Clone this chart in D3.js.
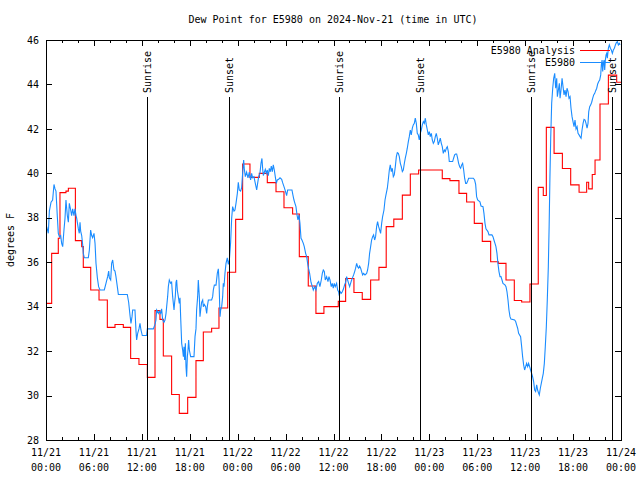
<!DOCTYPE html>
<html><head><meta charset="utf-8">
<script src="https://cdn.jsdelivr.net/npm/d3@7"></script>
<style>
body{margin:0;background:#fff;}
svg{display:block;}
text{font-family:"DejaVu Sans Mono","Liberation Mono",monospace;font-size:10px;fill:#000;}
</style></head>
<body>
<svg id="c" width="640" height="480"></svg>
<script>
// ---- data ----
const title = "Dew Point for E5980 on 2024-Nov-21 (time in UTC)";
const yLabel = "degrees F";
const seriesNames = ["E5980 Analysis", "E5980"];
const seriesColors = ["#ff0000", "#1a8cff"];
const xTickHours = [0,6,12,18,24,30,36,42,48,54,60,66,72];
const xTickDates = ["11/21","11/21","11/21","11/21","11/22","11/22","11/22","11/22","11/23","11/23","11/23","11/23","11/24"];
const xTickTimes = ["00:00","06:00","12:00","18:00","00:00","06:00","12:00","18:00","00:00","06:00","12:00","18:00","00:00"];
const yTicks = [28,30,32,34,36,38,40,42,44,46];
const sunHours = [12.69, 22.96, 36.73, 46.87, 60.77, 70.9];
const sunLabels = ["Sunrise","Sunset","Sunrise","Sunset","Sunrise","Sunset"];

// analysis: [hour step starts, value]
const analysis = [
[0,34.15],[0.71,36.4],[1.54,37.08],[1.75,39.13],[2.5,39.2],[2.8,39.33],[3.68,36.97],[4.47,36.7],[4.67,35.77],
[5.6,34.75],[6.64,34.3],[7.68,33.07],[8.64,33.2],[9.68,33.07],[10.6,31.67],[11.64,31.4],[12.69,30.82],
[13.65,33.82],[14.27,33.43],[14.69,31.78],[15.73,30.05],[16.69,29.2],[17.74,29.92],[18.78,31.57],
[19.7,32.86],[20.74,33.03],[21.66,33.94],[22.75,35.55],[23.75,37.93],[24.62,40.42],[25.54,39.82],
[26.71,40.0],[27.71,39.58],[28.8,39.17],[29.8,38.45],[30.88,38.17],[31.72,36.25],[32.84,34.93],
[33.8,33.7],[34.8,34.0],[36.6,34.24],[37.52,35.27],[38.56,34.64],[39.6,34.33],[40.65,35.2],
[41.69,35.77],[42.6,37.6],[43.55,37.94],[44.62,39.02],[45.62,39.97],[46.66,40.15],[49.62,39.76],
[50.58,39.67],[51.71,39.1],[52.67,38.71],[53.63,37.75],[54.63,36.94],[55.68,36.02],[56.64,35.95],
[57.6,35.2],[58.64,34.28],[59.56,34.21],[60.6,35.02],[61.64,39.37],[62.27,39.0],[62.65,42.07],
[63.62,40.9],[64.66,40.22],[65.7,39.48],[66.75,39.15],[67.7,39.6],[67.95,39.3],[68.4,39.95],
[68.75,40.6],[69.37,43.12],[70.42,44.42],[71.46,44.1],[72,44.1]
];

// observations: [hour, value]
const observed = [
[0.08,37.6],[0.29,37.3],[0.42,38.3],[0.63,38.7],[0.83,38.8],[1.0,39.5],[1.13,39.3],[1.25,39.2],[1.42,38.05],
[1.54,37.3],[1.67,37.15],[1.84,37.2],[1.96,36.85],[2.09,36.7],[2.25,37.45],[2.38,37.98],[2.5,38.8],[2.67,38.1],
[2.8,37.8],[2.92,38.65],[3.09,38.35],[3.21,38.1],[3.34,38.4],[3.5,38.1],[3.63,38.4],[3.76,38.1],[3.84,37.98],
[4.05,37.5],[4.17,37.3],[4.26,37.8],[4.34,37.4],[4.47,37.2],[4.59,36.8],[4.67,36.4],[4.8,36.2],[5.3,36.2],
[5.43,36.55],[5.59,37.45],[5.72,37.2],[5.84,37.1],[6.01,37.3],[6.14,36.85],[6.26,35.95],[6.43,35.3],[6.59,34.9],
[6.76,34.75],[7.3,34.75],[7.51,35.05],[7.72,35.35],[7.85,35.6],[7.93,35.3],[8.1,35.2],[8.22,35.95],[8.35,36.1],
[8.51,35.65],[8.64,35.6],[8.76,35.35],[8.93,34.9],[9.06,34.55],[10.18,34.55],[10.35,34.2],[10.52,33.6],
[10.64,33.25],[10.77,33.55],[10.85,33.85],[11.14,33.85],[11.27,32.9],[11.35,32.5],[11.48,32.8],[11.64,33.0],
[11.77,33.25],[11.89,32.95],[12.06,32.7],[12.6,32.7],[12.69,33.0],[13.44,33.0],[13.65,33.2],[13.77,33.4],
[13.86,33.85],[14.07,33.7],[14.19,33.8],[14.36,33.7],[14.48,33.9],[14.61,33.4],[14.77,33.3],[14.9,33.4],
[15.03,33.7],[15.11,34.0],[15.23,34.45],[15.32,34.9],[15.44,35.2],[15.61,35.05],[15.73,35.1],[15.86,34.45],
[16.03,33.85],[16.11,34.2],[16.19,34.45],[16.28,35.1],[16.36,35.2],[16.44,34.75],[16.57,34.45],[16.69,34.15],
[16.78,34.4],[16.86,33.55],[16.99,32.35],[17.11,32.05],[17.2,31.75],[17.28,32.2],[17.36,31.6],[17.45,32.35],
[17.53,31.3],[17.61,30.85],[17.7,31.75],[17.78,32.05],[17.86,32.5],[17.95,32.05],[18.03,31.9],[18.11,31.75],
[18.53,31.75],[18.66,32.65],[18.78,33.0],[18.86,33.85],[18.99,34.45],[19.07,35.2],[19.2,34.45],[19.28,33.55],
[19.37,33.85],[19.49,34.2],[19.62,34.3],[19.7,34.0],[19.82,34.1],[19.99,34.0],[20.12,33.7],[20.2,34.0],
[20.33,34.3],[20.74,34.3],[20.87,34.45],[20.95,34.75],[21.08,34.97],[21.29,34.97],[21.45,35.5],[21.58,35.7],
[21.66,35.2],[21.79,33.55],[21.87,33.85],[22.0,34.0],[22.12,34.45],[22.2,35.05],[22.29,34.9],[22.41,35.5],
[22.54,35.95],[22.7,36.2],[22.83,35.9],[22.96,36.1],[23.12,36.9],[23.25,37.98],[23.37,38.5],[23.54,38.3],
[23.66,38.35],[23.79,38.65],[23.96,39.1],[24.08,39.6],[24.2,39.25],[24.37,39.2],[24.5,39.35],[24.62,40.0],
[24.75,40.6],[24.83,40.2],[24.96,39.85],[25.12,40.05],[25.29,39.8],[25.46,40.05],[25.62,39.7],[25.75,40.0],
[25.87,39.8],[26.04,39.85],[26.21,39.55],[26.38,39.25],[26.5,39.55],[26.63,39.85],[26.79,40.0],[26.92,40.45],
[27.04,40.67],[27.13,40.2],[27.21,39.9],[27.34,40.05],[27.46,40.18],[27.59,40.0],[27.71,40.15],[27.84,39.9],
[27.96,40.22],[28.09,40.07],[28.21,40.33],[28.34,40.07],[28.46,40.38],[28.59,40.15],[28.71,39.85],[28.84,39.55],
[28.96,39.7],[29.13,39.73],[29.3,39.8],[29.51,39.73],[29.63,39.58],[29.8,39.4],[29.96,39.22],[30.13,39.0],
[30.26,39.25],[30.8,39.25],[30.92,39.02],[31.05,38.8],[31.17,38.65],[31.3,38.5],[31.43,38.13],[31.55,37.9],
[31.68,38.13],[31.8,37.75],[31.93,37.08],[32.05,37.0],[32.22,36.85],[32.34,36.7],[32.51,36.4],[32.64,36.25],
[32.76,35.95],[32.89,35.7],[33.01,35.5],[33.18,35.1],[33.35,34.9],[33.47,34.75],[33.64,34.9],[33.8,34.75],
[33.97,35.05],[34.14,35.13],[34.3,34.9],[34.47,35.2],[34.6,35.5],[34.72,35.65],[34.85,35.58],[34.97,35.2],
[35.14,35.35],[35.31,35.13],[35.43,35.35],[35.56,35.2],[35.72,34.9],[35.85,35.05],[35.97,34.83],[36.1,35.05],
[36.22,34.9],[36.39,35.05],[36.52,34.75],[36.64,34.67],[36.72,34.5],[36.85,34.67],[36.98,34.6],[37.1,34.67],
[37.23,34.78],[37.39,34.98],[37.52,35.1],[37.64,35.35],[37.77,35.2],[37.89,35.05],[38.02,34.9],[38.14,35.05],
[38.27,35.2],[38.4,35.32],[38.52,35.43],[38.65,35.58],[38.77,35.73],[38.9,35.95],[39.02,35.8],[39.15,35.73],
[39.27,35.83],[39.4,35.73],[39.52,35.58],[39.65,35.43],[39.77,35.5],[39.94,35.43],[40.15,35.5],[40.27,35.65],
[40.4,35.95],[40.52,36.4],[40.65,36.7],[40.77,37.0],[40.9,37.15],[41.02,37.23],[41.15,37.0],[41.27,37.15],
[41.4,37.6],[41.52,37.83],[41.65,37.6],[41.78,37.45],[41.9,37.3],[42.03,37.75],[42.15,38.05],[42.32,38.35],
[42.45,38.8],[42.57,39.03],[42.74,39.33],[42.86,39.7],[42.99,40.15],[43.11,40.38],[43.24,40.08],[43.36,40.23],
[43.49,39.85],[43.61,39.93],[43.74,40.3],[43.87,40.75],[43.99,40.93],[44.12,40.9],[44.24,40.75],[44.37,40.45],
[44.49,40.3],[44.62,40.08],[44.74,40.15],[44.87,40.45],[44.99,40.68],[45.12,40.9],[45.24,41.13],[45.37,41.43],
[45.49,41.65],[45.62,41.95],[45.74,41.73],[45.87,42.03],[45.99,42.18],[46.12,42.25],[46.24,42.48],[46.37,42.25],
[46.49,41.8],[46.62,41.73],[46.74,41.5],[46.87,41.8],[46.99,41.95],[47.12,42.18],[47.25,42.33],[47.37,42.25],
[47.5,42.48],[47.62,42.18],[47.75,41.95],[47.87,41.73],[48.0,41.88],[48.12,41.65],[48.25,41.8],[48.37,41.5],
[48.5,41.35],[48.62,41.43],[48.75,41.65],[48.87,41.8],[49.0,41.58],[49.12,41.28],[49.25,41.43],[49.37,41.58],
[49.5,41.35],[49.62,41.2],[49.75,40.9],[49.88,41.05],[50.0,40.98],[50.13,41.13],[50.25,41.2],[50.38,40.98],
[50.5,40.53],[50.92,40.53],[51.04,40.68],[51.17,40.83],[51.29,40.87],[51.42,40.87],[51.54,40.68],[51.67,40.45],
[51.8,40.3],[51.92,40.23],[52.05,40.38],[52.17,40.45],[52.3,40.15],[52.42,39.78],[52.55,39.55],[52.67,39.55],
[52.8,39.65],[52.92,39.78],[53.51,39.78],[53.67,39.7],[53.8,39.5],[53.92,38.95],[54.05,38.8],[54.34,38.72],
[54.47,38.53],[54.72,38.5],[54.84,38.2],[54.97,37.75],[55.09,37.5],[55.34,37.38],[55.47,37.23],[55.84,37.23],
[55.97,37.15],[56.09,37.0],[56.22,36.85],[56.34,36.7],[56.47,36.4],[56.59,35.95],[56.72,35.58],[56.85,35.35],
[56.97,35.35],[57.1,35.2],[57.22,35.05],[57.47,34.98],[57.6,34.9],[57.72,34.68],[57.85,34.3],[57.97,33.85],
[58.1,33.55],[58.22,33.44],[58.68,33.4],[58.81,33.33],[58.93,33.18],[59.06,33.03],[59.18,32.8],[59.43,32.65],
[59.56,32.2],[59.68,31.75],[59.81,31.38],[59.93,31.15],[60.06,31.3],[60.18,31.45],[60.31,31.3],[60.43,31.45],
[60.56,31.3],[60.68,31.15],[60.81,31.0],[60.93,30.85],[61.06,30.63],[61.19,30.25],[61.31,30.18],[61.44,30.48],
[61.56,30.25],[61.69,30.1],[61.77,30.03],[61.9,30.33],[62.02,30.55],[62.15,30.78],[62.27,31.0],[62.4,31.45],
[62.52,32.2],[62.65,33.1],[62.77,34.3],[62.9,35.8],[63.0,37.6],[63.1,39.8],[63.2,41.6],[63.32,43.15],
[63.45,43.83],[63.57,44.28],[63.7,44.5],[63.82,43.83],[63.95,44.28],[64.03,43.45],[64.16,43.75],[64.28,44.05],
[64.37,43.38],[64.49,43.75],[64.62,44.28],[64.74,43.9],[64.87,43.53],[64.99,43.75],[65.12,43.45],[65.24,43.83],
[65.37,43.68],[65.49,43.38],[65.62,43.45],[65.74,42.93],[65.87,42.55],[65.99,42.33],[66.12,42.1],[66.24,42.4],
[66.37,42.0],[66.5,42.1],[66.62,41.8],[66.75,41.73],[66.87,41.65],[67.0,41.58],[67.12,41.95],[67.25,42.25],
[67.37,42.43],[67.5,42.4],[67.62,42.25],[67.75,42.03],[67.87,42.25],[67.96,42.78],[68.08,43.0],[68.21,43.08],
[68.33,43.2],[68.46,43.38],[68.58,43.53],[68.71,43.6],[68.83,43.72],[68.96,43.83],[69.08,44.02],[69.21,44.13],
[69.33,44.2],[69.46,44.43],[69.54,44.88],[69.63,45.1],[69.71,44.58],[69.79,44.95],[69.88,45.1],[69.96,44.65],
[70.04,45.1],[70.13,45.33],[70.21,45.4],[70.29,45.18],[70.42,45.63],[70.54,45.78],[70.67,45.63],[70.79,45.55],
[70.92,45.4],[71.04,45.55],[71.17,45.63],[71.3,45.78],[71.42,45.88],[71.55,45.93],[71.67,45.78],[71.8,45.85],
[71.88,45.78]
];

// ---- drawing ----
const svg = d3.select("#c");
const L = 46, R = 621, T = 40, B = 440;
const x = d3.scaleLinear().domain([0,72]).range([L,R]);
const y = d3.scaleLinear().domain([28,46]).range([B,T]);

svg.append("text").attr("x", 333).attr("y", 23).attr("text-anchor","middle").text(title);

svg.append("text").attr("transform","translate(14,240) rotate(-90)")
  .attr("text-anchor","middle").text(yLabel);

const g = svg.append("g");

// data lines
const anaLine = d3.line().x(d=>x(d[0])).y(d=>y(d[1])).curve(d3.curveStepAfter);
g.append("path").datum(analysis).attr("d", anaLine)
  .attr("fill","none").attr("stroke",seriesColors[0]).attr("stroke-width",1.1);

const obsLine = d3.line().x(d=>x(d[0])).y(d=>y(d[1]));
g.append("path").datum(observed).attr("d", obsLine)
  .attr("fill","none").attr("stroke",seriesColors[1]).attr("stroke-width",1.1);

// sunrise / sunset lines
sunHours.forEach((h,i)=>{
  const xx = Math.round(x(h)) + 0.5;
  g.append("line").attr("x1",xx).attr("x2",xx).attr("y1",97).attr("y2",B)
    .attr("stroke","#000").attr("stroke-width",1).attr("shape-rendering","crispEdges");
  g.append("text").attr("transform",`translate(${xx},93) rotate(-90)`)
    .attr("dy","0.35em").attr("text-anchor","start").text(sunLabels[i]);
});

// frame
svg.append("rect").attr("x",L+0.5).attr("y",T+0.5).attr("width",R-L).attr("height",B-T)
  .attr("fill","none").attr("stroke","#000").attr("shape-rendering","crispEdges");

// axes
function styleAxis(sel){ sel.select(".domain").remove(); sel.selectAll("line").attr("stroke","#000").attr("shape-rendering","crispEdges"); }
const minorHours = d3.range(0,73,2).filter(h=>h%6!==0);
svg.append("g").attr("transform",`translate(0,${B})`)
  .call(d3.axisBottom(x).tickValues(xTickHours).tickSize(-6).tickFormat(""))
  .call(styleAxis);
svg.append("g").attr("transform",`translate(0,${B})`)
  .call(d3.axisBottom(x).tickValues(minorHours).tickSize(-3).tickFormat(""))
  .call(styleAxis);
svg.append("g").attr("transform",`translate(0,${T})`)
  .call(d3.axisTop(x).tickValues(xTickHours).tickSize(-6).tickFormat(""))
  .call(styleAxis);
svg.append("g").attr("transform",`translate(0,${T})`)
  .call(d3.axisTop(x).tickValues(minorHours).tickSize(-3).tickFormat(""))
  .call(styleAxis);
svg.append("g").attr("transform",`translate(${L},0)`)
  .call(d3.axisLeft(y).tickValues(yTicks).tickSize(-6).tickPadding(7).tickFormat(d3.format("d")))
  .call(styleAxis)
  .selectAll("text").style("font-family",'"DejaVu Sans Mono",monospace').style("font-size","10px").attr("fill","#000");
svg.append("g").attr("transform",`translate(${R},0)`)
  .call(d3.axisRight(y).tickValues(yTicks).tickSize(-6).tickFormat(""))
  .call(styleAxis);

// x tick labels (two lines)
const xl = svg.append("g");
xTickHours.forEach((h,i)=>{
  const t = xl.append("text").attr("x", x(h)).attr("text-anchor","middle");
  t.append("tspan").attr("x",x(h)).attr("y",456).text(xTickDates[i]);
  t.append("tspan").attr("x",x(h)).attr("y",471).text(xTickTimes[i]);
});

// legend
seriesNames.forEach((n,i)=>{
  const ly = 50 + i*12;
  svg.append("text").attr("x",575).attr("y",ly).attr("dy","0.35em").attr("text-anchor","end").text(n);
  svg.append("line").attr("x1",580).attr("x2",610).attr("y1",ly+0.5).attr("y2",ly+0.5)
    .attr("stroke",seriesColors[i]).attr("stroke-width",1).attr("shape-rendering","crispEdges");
});
</script>
</body></html>
